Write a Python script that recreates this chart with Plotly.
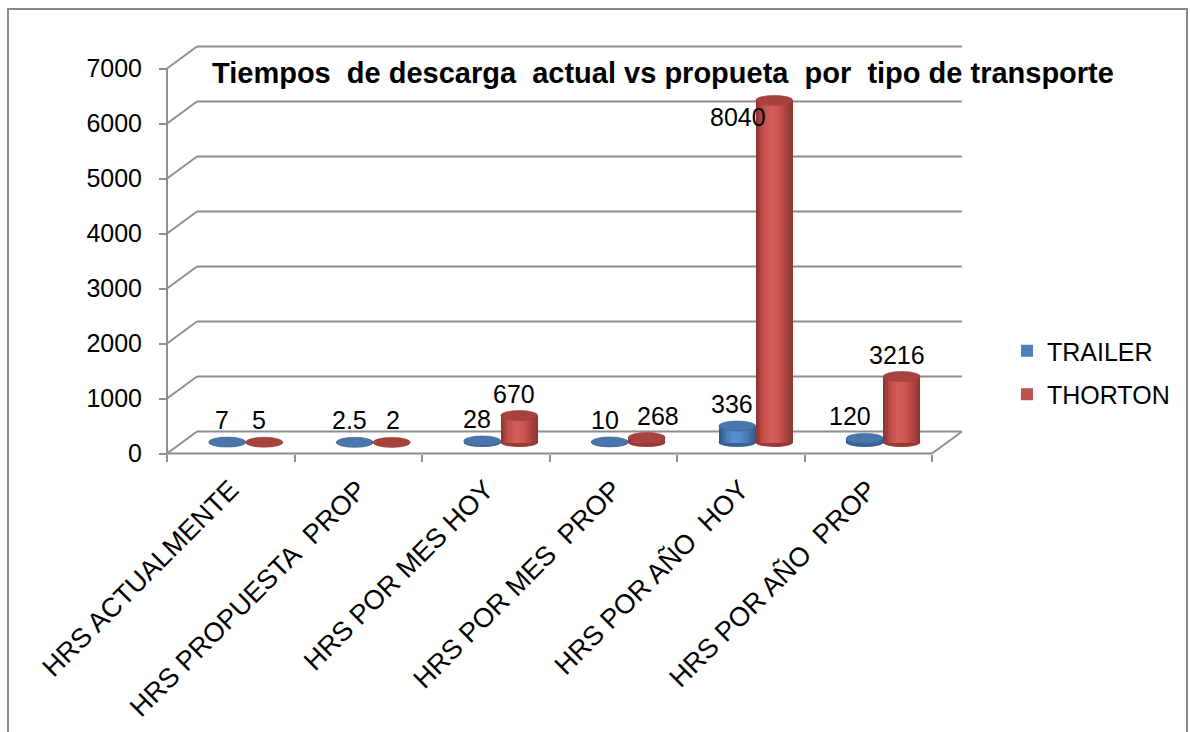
import plotly.graph_objects as go

# ---------------- data ----------------
CATEGORIES = ["HRS ACTUALMENTE", "HRS PROPUESTA  PROP", "HRS POR MES HOY",
              "HRS POR MES  PROP", "HRS POR AÑO  HOY", "HRS POR AÑO  PROP"]
SERIES = ["TRAILER", "THORTON"]
# data labels as printed on the chart
TRAILER_LABELS = ["7", "2.5", "28", "10", "336", "120"]
THORTON_LABELS = ["5", "2", "670", "268", "8040", "3216"]
# bar heights as drawn against the value axis
TRAILER_HEIGHTS = [7, 2.5, 28, 10, 300, 75]
THORTON_HEIGHTS = [5, 2, 490, 90, 6220, 1200]
Y_TICKS = [0, 1000, 2000, 3000, 4000, 5000, 6000, 7000]
TITLE = "Tiempos  de descarga  actual vs propueta  por  tipo de transporte"

# ---------------- styling / geometry ----------------
W, H = 1190, 732
FONT = "Liberation Sans, Arial, sans-serif"
GRID = "#8e8e8e"
PX_PER_CAT = 127.5          # pixel width of one category
PX_PER_UNIT = 0.055         # pixels per value unit
MID_X0 = 245.75             # pixel x of category 0 centre (mid depth plane)
MID_Y0 = 442.5              # pixel y of value 0 (mid depth plane)
DEPTH_X, DEPTH_Y = 15, 11   # half depth of the 3-D box in pixels
BAR_W = 0.29                # cylinder width in category units
N_STRIPES = 17
# small horizontal nudges (px) for a few data labels, as placed in the original
LABEL_NUDGE = {("THORTON", 1): 6, ("THORTON", 3): 16, ("TRAILER", 5): -10}

dx = DEPTH_X / PX_PER_CAT
dy = DEPTH_Y / PX_PER_UNIT


def xrange_for(x0_px):
    return [(0 - x0_px) / PX_PER_CAT, (W - x0_px) / PX_PER_CAT]


def yrange_for(y0_px):
    return [(y0_px - H) / PX_PER_UNIT, y0_px / PX_PER_UNIT]


def hex2rgb(h):
    h = h.lstrip("#")
    return [int(h[i:i + 2], 16) for i in (0, 2, 4)]


def shade_ramp(stops, n):
    """colour ramp across the cylinder from a few hex stops"""
    out = []
    m = len(stops) - 1
    for k in range(n):
        t = (k + 0.5) / n * m
        j = min(int(t), m - 1)
        f = t - j
        a, b = hex2rgb(stops[j]), hex2rgb(stops[j + 1])
        c = [round(a[q] + (b[q] - a[q]) * f) for q in range(3)]
        out.append("rgb(%d,%d,%d)" % tuple(c))
    return out


series_cfg = [
    dict(name=SERIES[0], heights=TRAILER_HEIGHTS, labels=TRAILER_LABELS, off=-BAR_W / 2,
         base="#4F81BD", top="#4a76ab", bottom="#3a6294",
         stops=["#2c5486", "#4678b6", "#5d90cf", "#5387c7", "#4576b2", "#2f5889"]),
    dict(name=SERIES[1], heights=THORTON_HEIGHTS, labels=THORTON_LABELS, off=BAR_W / 2,
         base="#C0504D", top="#a8423f", bottom="#983a37",
         stops=["#8a312e", "#bf4e4a", "#d45e5a", "#cb5652", "#b04541", "#8b322f"]),
]

fig = go.Figure()
x_idx = list(range(len(CATEGORIES)))

# cylinder bodies as shaded vertical stripes
for s in series_cfg:
    cols = shade_ramp(s["stops"], N_STRIPES)
    sw = BAR_W / N_STRIPES
    for k, col in enumerate(cols):
        fig.add_trace(go.Bar(
            x=x_idx, y=s["heights"], width=[sw * 1.08] * len(x_idx),
            offset=[s["off"] - BAR_W / 2 + k * sw] * len(x_idx),
            marker=dict(color=col, line=dict(width=0)),
            showlegend=False, hoverinfo="skip"))
    # legend entry
    fig.add_trace(go.Bar(x=[0], y=[0], name=s["name"], legendgroup=s["name"],
                         marker=dict(color=s["base"], line=dict(width=0)),
                         width=[0.0001], hoverinfo="skip"))

# invisible trace for the front-plane axes
fig.add_trace(go.Scatter(x=[0], y=[0], xaxis="x2", yaxis="y2", mode="markers",
                         marker=dict(opacity=0), showlegend=False, hoverinfo="skip"))

shapes = []
line = dict(color=GRID, width=2)
x_left, x_right = -0.5, len(CATEGORIES) - 0.5
# back wall gridlines with side-wall diagonals
for v in Y_TICKS:
    shapes.append(dict(type="line", xref="x", yref="y", x0=x_left - dx, y0=v - dy,
                       x1=x_left + dx, y1=v + dy, line=line, layer="below"))
    shapes.append(dict(type="line", xref="x", yref="y", x0=x_left + dx, y0=v + dy,
                       x1=x_right + dx, y1=v + dy, line=line, layer="below"))
# front value axis line
shapes.append(dict(type="line", xref="x", yref="y", x0=x_left - dx, y0=-dy,
                   x1=x_left - dx, y1=Y_TICKS[-1] - dy, line=line, layer="below"))
# floor front edge and right diagonal
shapes.append(dict(type="line", xref="x", yref="y", x0=x_left - dx, y0=-dy,
                   x1=x_right - dx, y1=-dy, line=line, layer="below"))
shapes.append(dict(type="line", xref="x", yref="y", x0=x_right - dx, y0=-dy,
                   x1=x_right + dx, y1=dy, line=line, layer="below"))

# cylinder ellipses (bottom below bars, top above bars)
half_w_px = BAR_W * PX_PER_CAT / 2
for s in series_cfg:
    for i, h in enumerate(s["heights"]):
        cx = i + s["off"]
        shapes.append(dict(type="circle", xref="x", yref="y", xsizemode="pixel",
                           ysizemode="pixel", xanchor=cx, yanchor=0,
                           x0=-half_w_px, x1=half_w_px, y0=-4.5, y1=4.5,
                           fillcolor=s["bottom"], line=dict(width=0), layer="below"))
        shapes.append(dict(type="circle", xref="x", yref="y", xsizemode="pixel",
                           ysizemode="pixel", xanchor=cx, yanchor=h,
                           x0=-half_w_px, x1=half_w_px, y0=-5, y1=5,
                           fillcolor=s["top"], line=dict(color=s["bottom"], width=0.6),
                           layer="above"))

# outer chart border
shapes.append(dict(type="rect", xref="paper", yref="paper", x0=8 / W, x1=1187 / W,
                   y0=-0.02, y1=1 - 9 / H, line=dict(color="#8a8a8a", width=2),
                   layer="below"))

annotations = []
for s in series_cfg:
    for i, (h, lab) in enumerate(zip(s["heights"], s["labels"])):
        top_px = MID_Y0 - h * PX_PER_UNIT
        if top_px < 130:   # label of the tallest bar sits beside it
            xs, ys = -36, -17
        else:
            xs, ys = -5 + LABEL_NUDGE.get((s["name"], i), 0), 22
        annotations.append(dict(x=i + s["off"], y=h, xref="x", yref="y", text=lab,
                                showarrow=False, xshift=xs, yshift=ys,
                                font=dict(family=FONT, size=25, color="#000"),
                                xanchor="center", yanchor="middle"))

annotations.append(dict(x=663 / W, y=1 - 73 / H, xref="paper", yref="paper",
                        text="<b>" + TITLE.replace("  ", "\u00a0 ") + "</b>",
                        showarrow=False, xanchor="center", yanchor="middle",
                        font=dict(family=FONT, size=29, color="#000")))

fig.update_layout(
    width=W, height=H, margin=dict(l=0, r=0, t=0, b=0),
    paper_bgcolor="white", plot_bgcolor="white",
    barmode="overlay", bargap=0,
    shapes=shapes, annotations=annotations,
    font=dict(family=FONT, size=25, color="#000"),
    xaxis=dict(domain=[0, 1], range=xrange_for(MID_X0), visible=False, fixedrange=True),
    yaxis=dict(domain=[0, 1], range=yrange_for(MID_Y0), visible=False, fixedrange=True),
    xaxis2=dict(overlaying="x", anchor="free", position=(H - (MID_Y0 + DEPTH_Y)) / H,
                side="bottom", range=xrange_for(MID_X0 - DEPTH_X),
                tickmode="array", tickvals=x_idx,
                ticktext=[c.replace("  ", "\u00a0 ") for c in CATEGORIES],
                tickangle=-45, ticks="", showgrid=False, zeroline=False, showline=False,
                ticklabelstandoff=14,
                tickfont=dict(family=FONT, size=27, color="#000"),
                minor=dict(tickmode="array", tickvals=[i - 0.5 for i in range(len(CATEGORIES) + 1)],
                           ticks="outside", ticklen=7, tickwidth=2, tickcolor=GRID,
                           showgrid=False)),
    yaxis2=dict(overlaying="y", anchor="free", position=(MID_X0 - DEPTH_X - 63.75) / W,
                side="left", range=yrange_for(MID_Y0 + DEPTH_Y),
                tickmode="array", tickvals=Y_TICKS, ticks="outside", ticklen=8,
                tickwidth=2, tickcolor=GRID, ticklabelstandoff=12,
                showgrid=False, zeroline=False, showline=False,
                tickfont=dict(family=FONT, size=25, color="#000")),
    legend=dict(x=1007 / W, y=1 - 328 / H, xanchor="left", yanchor="top",
                traceorder="grouped", tracegroupgap=8, bgcolor="rgba(0,0,0,0)",
                font=dict(family=FONT, size=25, color="#000")),
    showlegend=True,
)

fig.write_html("out.html", config={"displayModeBar": False},
               post_script="document.body.style.margin='0px';document.body.style.overflow='hidden';")
